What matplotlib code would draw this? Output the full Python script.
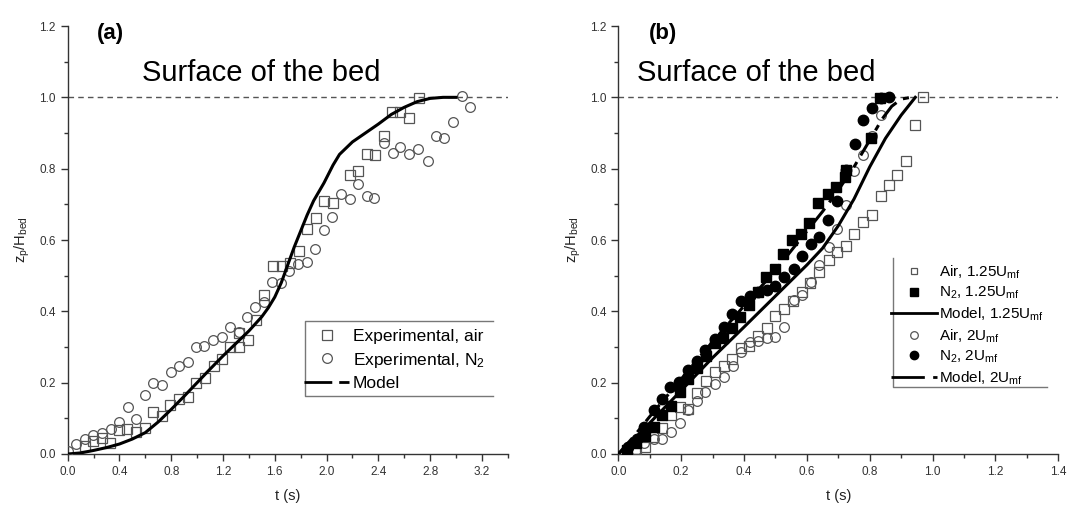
import matplotlib
matplotlib.use('Agg')
import matplotlib.pyplot as plt
from matplotlib.lines import Line2D
from matplotlib.ticker import MultipleLocator

plt.rcParams['font.family'] = ['Liberation Sans', 'DejaVu Sans']
plt.rcParams['mathtext.fontset'] = 'custom'
plt.rcParams['mathtext.rm'] = 'Liberation Sans'
plt.rcParams['mathtext.it'] = 'Liberation Sans:italic'

# ---- panel (a) data ----
a_air_t = [0.134, 0.198, 0.268, 0.326, 0.398, 0.462, 0.527, 0.596, 0.66, 0.725,
           0.794, 0.86, 0.926, 0.99, 1.06, 1.127, 1.19, 1.254, 1.324, 1.324,
           1.39, 1.455, 1.52, 1.59, 1.657, 1.72, 1.787, 1.85, 1.917, 1.98,
           2.05, 2.18, 2.245, 2.31, 2.378, 2.44, 2.505, 2.57, 2.638, 2.718]
a_air_y = [0.022, 0.036, 0.044, 0.032, 0.067, 0.069, 0.063, 0.072, 0.117, 0.107,
           0.137, 0.154, 0.159, 0.2, 0.214, 0.248, 0.267, 0.301, 0.299, 0.339,
           0.32, 0.376, 0.446, 0.526, 0.526, 0.535, 0.569, 0.63, 0.662, 0.709,
           0.703, 0.782, 0.793, 0.842, 0.837, 0.891, 0.96, 0.96, 0.943, 0.997]

a_n2_t = [0.0, 0.064, 0.134, 0.198, 0.268, 0.332, 0.399, 0.463, 0.528, 0.6,
          0.66, 0.73, 0.796, 0.86, 0.927, 0.991, 1.056, 1.126, 1.19, 1.254,
          1.32, 1.383, 1.447, 1.517, 1.58, 1.646, 1.713, 1.78, 1.846, 1.913,
          1.98, 2.045, 2.112, 2.179, 2.245, 2.31, 2.37, 2.44, 2.51, 2.57,
          2.64, 2.71, 2.78, 2.846, 2.908, 2.975, 3.045, 3.11]
a_n2_y = [0.009, 0.028, 0.041, 0.053, 0.058, 0.07, 0.091, 0.133, 0.098, 0.165,
          0.198, 0.193, 0.231, 0.248, 0.259, 0.299, 0.304, 0.321, 0.329, 0.357,
          0.341, 0.383, 0.411, 0.427, 0.483, 0.48, 0.514, 0.534, 0.539, 0.575,
          0.628, 0.664, 0.728, 0.714, 0.756, 0.723, 0.717, 0.871, 0.845, 0.862,
          0.841, 0.854, 0.822, 0.892, 0.885, 0.93, 1.005, 0.974]

a_model_t = [0.0, 0.1, 0.2, 0.3, 0.4, 0.5, 0.6, 0.7, 0.8, 0.9, 1.0, 1.1, 1.2, 1.3,
             1.4, 1.5, 1.55, 1.6, 1.65, 1.7, 1.75, 1.8, 1.85, 1.9, 1.98, 2.05,
             2.1, 2.2, 2.3, 2.4, 2.5, 2.6, 2.7, 2.8, 2.9, 3.0]
a_model_y = [0.0, 0.003, 0.01, 0.018, 0.028, 0.042, 0.06, 0.09, 0.125, 0.162, 0.2,
             0.238, 0.275, 0.31, 0.345, 0.385, 0.41, 0.44, 0.48, 0.53, 0.58, 0.625,
             0.67, 0.71, 0.76, 0.81, 0.84, 0.875, 0.9, 0.925, 0.952, 0.972, 0.988,
             0.997, 1.0, 1.0]

# ---- panel (b) data ----
b_air125_t = [0.056, 0.084, 0.11, 0.138, 0.168, 0.196, 0.223, 0.25, 0.279, 0.308,
              0.336, 0.362, 0.389, 0.417, 0.445, 0.473, 0.5, 0.527, 0.556, 0.583,
              0.611, 0.638, 0.669, 0.695, 0.723, 0.75, 0.778, 0.806, 0.835, 0.861,
              0.888, 0.915, 0.945, 0.971]
b_air125_y = [0.013, 0.021, 0.049, 0.073, 0.108, 0.131, 0.127, 0.172, 0.204, 0.229,
              0.247, 0.265, 0.297, 0.303, 0.33, 0.353, 0.386, 0.407, 0.43, 0.455,
              0.48, 0.51, 0.543, 0.565, 0.583, 0.618, 0.65, 0.67, 0.724, 0.755,
              0.781, 0.822, 0.922, 1.0]

b_n2125_t = [0.028, 0.056, 0.084, 0.112, 0.14, 0.168, 0.196, 0.223, 0.25, 0.279,
             0.308, 0.334, 0.361, 0.387, 0.416, 0.443, 0.469, 0.499, 0.525, 0.554,
             0.581, 0.608, 0.636, 0.666, 0.693, 0.721, 0.723, 0.804, 0.832]
b_n2125_y = [0.01, 0.03, 0.05, 0.075, 0.11, 0.135, 0.175, 0.21, 0.24, 0.275,
             0.31, 0.325, 0.352, 0.383, 0.418, 0.455, 0.495, 0.52, 0.561, 0.6,
             0.617, 0.649, 0.703, 0.728, 0.749, 0.777, 0.795, 0.885, 0.997]

b_air2_t = [0.056, 0.083, 0.112, 0.139, 0.167, 0.196, 0.223, 0.25, 0.277, 0.307,
            0.337, 0.364, 0.39, 0.418, 0.445, 0.474, 0.5, 0.528, 0.558, 0.585,
            0.612, 0.639, 0.671, 0.696, 0.723, 0.75, 0.777, 0.806, 0.835]
b_air2_y = [0.011, 0.03, 0.041, 0.041, 0.061, 0.086, 0.124, 0.149, 0.175, 0.197,
            0.217, 0.247, 0.287, 0.313, 0.318, 0.325, 0.328, 0.355, 0.433, 0.447,
            0.481, 0.529, 0.58, 0.632, 0.699, 0.793, 0.839, 0.893, 0.95]

b_n22_t = [0.031, 0.058, 0.083, 0.112, 0.139, 0.166, 0.194, 0.223, 0.25, 0.277,
           0.307, 0.335, 0.362, 0.39, 0.418, 0.445, 0.474, 0.5, 0.528, 0.558,
           0.585, 0.612, 0.639, 0.668, 0.695, 0.725, 0.752, 0.779, 0.806, 0.835,
           0.861]
b_n22_y = [0.02, 0.041, 0.075, 0.122, 0.155, 0.187, 0.203, 0.236, 0.262, 0.292,
           0.322, 0.356, 0.393, 0.428, 0.442, 0.453, 0.46, 0.47, 0.496, 0.519,
           0.556, 0.59, 0.609, 0.655, 0.709, 0.796, 0.87, 0.936, 0.971, 0.997, 1.0]

b_model125_t = [0.0, 0.05, 0.1, 0.2, 0.3, 0.4, 0.5, 0.6, 0.65, 0.7, 0.75, 0.8,
                0.85, 0.9, 0.945]
b_model125_y = [0.0, 0.042, 0.087, 0.178, 0.27, 0.356, 0.443, 0.53, 0.577, 0.64,
                0.715, 0.805, 0.885, 0.95, 1.0]
b_model2_t = [0.0, 0.05, 0.1, 0.2, 0.3, 0.4, 0.5, 0.6, 0.65, 0.7, 0.75, 0.8,
              0.84, 0.87, 0.9, 0.93]
b_model2_y = [0.0, 0.05, 0.105, 0.21, 0.315, 0.415, 0.515, 0.625, 0.68, 0.74,
              0.805, 0.88, 0.94, 0.975, 0.995, 1.0]

GRAY = '#555555'
AXC = '#333333'

fig = plt.figure(figsize=(10.69, 5.08), dpi=100)
ax1 = fig.add_axes([0.0633, 0.1063, 0.4117, 0.8425])
ax2 = fig.add_axes([0.5784, 0.1063, 0.4116, 0.8425])


def style_axis(ax, xmax, xmaj, xmin):
    ax.set_xlim(0, xmax)
    ax.set_ylim(0, 1.2)
    ax.xaxis.set_major_locator(MultipleLocator(xmaj))
    ax.xaxis.set_minor_locator(MultipleLocator(xmin))
    ax.yaxis.set_major_locator(MultipleLocator(0.2))
    ax.yaxis.set_minor_locator(MultipleLocator(0.1))
    for s in ['top', 'right']:
        ax.spines[s].set_visible(False)
    for s in ['left', 'bottom']:
        ax.spines[s].set_color(AXC)
        ax.spines[s].set_linewidth(1.0)
    ax.tick_params(which='major', direction='out', length=5, width=1,
                   color=AXC, labelsize=8.5, labelcolor='#333333')
    ax.tick_params(which='minor', direction='out', length=3, width=1, color=AXC)
    ax.xaxis.set_major_formatter(matplotlib.ticker.FormatStrFormatter('%.1f'))
    ax.yaxis.set_major_formatter(matplotlib.ticker.FormatStrFormatter('%.1f'))
    ax.axhline(1.0, color='#555555', lw=1.0, dashes=(4, 3), zorder=1)
    ax.set_xlabel('t (s)', fontsize=10.5, color='#222222', labelpad=8)
    ax.set_ylabel(r'z$_\mathrm{p}$/H$_\mathrm{bed}$', fontsize=10.5,
                  color='#222222', labelpad=5)


# ---- (a) ----
style_axis(ax1, 3.4, 0.4, 0.2)
ax1.plot(a_air_t, a_air_y, ls='none', marker='s', ms=6.5, mfc='none',
         mec=GRAY, mew=0.9, zorder=3)
ax1.plot(a_n2_t, a_n2_y, ls='none', marker='o', ms=7, mfc='none',
         mec=GRAY, mew=0.9, zorder=3)
ax1.plot(a_model_t, a_model_y, color='black', lw=2.2, zorder=4)
ax1.text(0.33, 1.18, '(a)', fontsize=16, fontweight='bold', ha='center', va='center')
ax1.text(1.494, 1.068, 'Surface of the bed', fontsize=21, ha='center', va='center')

h_a = [Line2D([], [], ls='none', marker='s', ms=6.5, mfc='none', mec=GRAY, mew=0.9),
       Line2D([], [], ls='none', marker='o', ms=7, mfc='none', mec=GRAY, mew=0.9),
       Line2D([], [], color='black', lw=2, dashes=(10, 2.5))]
ax1.legend(h_a, ['Experimental, air', r'Experimental, N$_\mathrm{2}$', 'Model'],
           loc='upper left', bbox_to_anchor=(0.52, 0.31), frameon=False,
           fontsize=12.5, handlelength=2.6, handletextpad=0.2, borderpad=0.45,
           borderaxespad=0, labelspacing=0.36)
lx0, lx1, ly0, ly1 = 0.539, 0.967, 0.136, 0.31
ax1.plot([lx1, lx0, lx0, lx1], [ly1, ly1, ly0, ly0], transform=ax1.transAxes,
         color='#777777', lw=1, clip_on=False, zorder=5)

# ---- (b) ----
style_axis(ax2, 1.4, 0.2, 0.1)
ax2.plot(b_air125_t, b_air125_y, ls='none', marker='s', ms=6.5, mfc='none',
         mec=GRAY, mew=0.9, zorder=3)
ax2.plot(b_air2_t, b_air2_y, ls='none', marker='o', ms=7, mfc='none',
         mec=GRAY, mew=0.9, zorder=3)
ax2.plot(b_n2125_t, b_n2125_y, ls='none', marker='s', ms=7, mfc='black',
         mec='black', zorder=3)
ax2.plot(b_n22_t, b_n22_y, ls='none', marker='o', ms=7.5, mfc='black',
         mec='black', zorder=3)
ax2.plot(b_model125_t, b_model125_y, color='black', lw=2.2, zorder=4)
ax2.plot(b_model2_t, b_model2_y, color='black', lw=2.2, dashes=(7, 2.5, 2, 2.5),
         zorder=4)
ax2.text(0.142, 1.18, '(b)', fontsize=16, fontweight='bold', ha='center', va='center')
ax2.text(0.438, 1.068, 'Surface of the bed', fontsize=21, ha='center', va='center')

h_b = [Line2D([], [], ls='none', marker='s', ms=5, mfc='none', mec=GRAY, mew=0.9),
       Line2D([], [], ls='none', marker='s', ms=5.5, mfc='black', mec='black'),
       Line2D([], [], color='black', lw=2),
       Line2D([], [], ls='none', marker='o', ms=5.5, mfc='none', mec=GRAY, mew=0.9),
       Line2D([], [], ls='none', marker='o', ms=6, mfc='black', mec='black'),
       Line2D([], [], color='black', lw=2, dashes=(12, 3, 3, 3))]
ax2.legend(h_b, [r'Air, 1.25U$_\mathrm{mf}$', r'N$_\mathrm{2}$, 1.25U$_\mathrm{mf}$',
                 r'Model, 1.25U$_\mathrm{mf}$', r'Air, 2U$_\mathrm{mf}$',
                 r'N$_\mathrm{2}$, 2U$_\mathrm{mf}$', r'Model, 2U$_\mathrm{mf}$'],
           loc='upper left', bbox_to_anchor=(0.606, 0.46), frameon=False,
           fontsize=11, handlelength=3.0, handletextpad=0.1, borderpad=0.42,
           borderaxespad=0, labelspacing=0.27)
bx0, bx1, by0, by1 = 0.624, 0.974, 0.157, 0.458
ax2.plot([bx0, bx0, bx1], [by1, by0, by0], transform=ax2.transAxes,
         color='#777777', lw=1, clip_on=False, zorder=5)

fig.savefig('out.png', dpi=100)
